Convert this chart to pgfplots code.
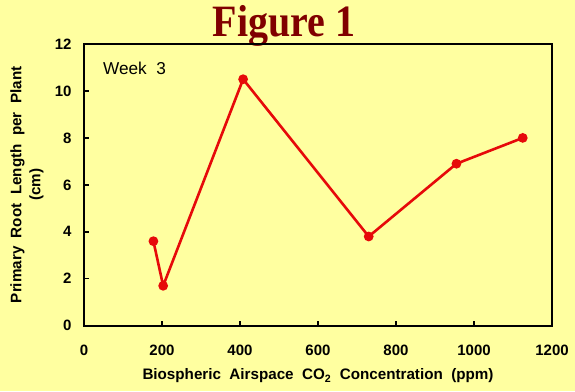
\documentclass[border=0pt]{standalone}
\usepackage{pgfplots}
\pgfplotsset{compat=1.18}
\usepackage{fontspec}
\setmainfont{Liberation Sans}
\newfontfamily\titlefont{Liberation Serif}
\definecolor{bgyellow}{RGB}{255,255,160}
\definecolor{darkred}{RGB}{128,0,0}
\definecolor{linered}{RGB}{230,10,10}
\begin{document}
\begin{tikzpicture}
\fill[bgyellow] (0pt,0pt) rectangle (575pt,391pt);
\useasboundingbox (0pt,0pt) rectangle (575pt,391pt);
\node[font=\titlefont\bfseries\fontsize{40}{40}\selectfont, text=darkred, anchor=base, yscale=1.12] at (284pt,354pt) {Figure 1};
\begin{axis}[
  at={(84pt,65.3pt)}, anchor=south west,
  scale only axis, width=468pt, height=281.7pt,
  xmin=0, xmax=1200, ymin=0, ymax=12,
  xtick={0,200,...,1200}, ytick={0,2,...,12},
  axis line style={line width=1.6pt},
  tick style={line width=1.4pt, black},
  tick align=inside, major tick length=5pt,
  xtick pos=bottom, ytick pos=left,
  /pgf/number format/assume math mode=true,
  /pgf/number format/1000 sep={},
  ticklabel style={font=\bfseries\fontsize{15}{17}\selectfont},
  xticklabel style={yshift=-16pt},
  yticklabel style={xshift=-9pt},
  xlabel={Biospheric~~Airspace~~CO\textsubscript{2}~~Concentration~~(ppm)},
  xlabel style={at={(axis description cs:0.5,0)}, anchor=center, yshift=-50pt, font=\bfseries\fontsize{15.2}{17}\selectfont},
  ylabel={Primary~~Root~~Length~~per~~Plant\\(cm)},
  ylabel style={at={(axis description cs:-0.1218,0.5)}, anchor=center, align=center, font=\bfseries\fontsize{15.2}{19}\selectfont},
  clip=false,
]
\addplot[linered, line width=2.6pt, mark=*, mark size=3.5pt, mark options={fill=linered, draw=linered}] coordinates {
  (178,3.6) (203,1.7) (408,10.5) (730,3.8) (955,6.9) (1125,8.0)
};
\node[anchor=west, font=\fontsize{17.2}{19}\selectfont] at (axis cs:40,10.95) {Week~~3};
\end{axis}
\end{tikzpicture}
\end{document}
